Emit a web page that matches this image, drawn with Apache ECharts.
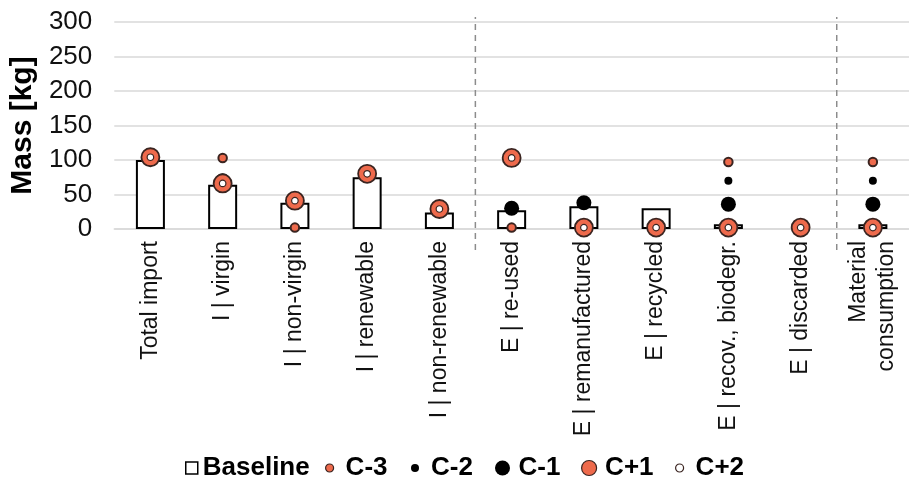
<!DOCTYPE html>
<html>
<head>
<meta charset="utf-8">
<script src="https://cdn.jsdelivr.net/npm/echarts@6/dist/echarts.min.js"></script>
<style>
html,body{margin:0;padding:0;background:#fff;}
#chart{width:909px;height:487px;}
</style>
</head>
<body>
<div id="chart"></div>
<script>
const categories = ['Total import','I | virgin','I | non-virgin','I | renewable','I | non-renewable','E | re-used','E | remanufactured','E | recycled','E | recov., biodegr.','E | discarded','Material\nconsumption'];
const baseline = [100, 64, 38, 75, 24, 27, 33, 30, 7, 0, 7];
const cMinus3 = [104, 103, 2, 80, 29, 2, 2, 2, 97, 2, 97];
const cMinus2 = [104, 70, 41, 80, 29, 30, 37, 2, 70, 2, 70];
const cMinus1 = [104, 70, 41, 80, 29, 30, 38, 2, 36, 2, 36];
const cPlus1 = [104, 66, 41, 80, 29, 103, 2, 2, 2, 2, 2];
const cPlus2 = [104, 66, 41, 80, 29, 103, 2, 2, 2, 2, 2];
const yTicks = [0, 50, 100, 150, 200, 250, 300];
const dividerPositions = [5, 10];

const chart = echarts.init(document.getElementById('chart'), null, {renderer:'canvas'});
const FONT = '"Liberation Sans", Arial, sans-serif';
const dark = '#3a2420';
const orange = '#EE6A4C';

function scatter(name, data, size, fill, border, bw, z) {
  return {
    name, type:'scatter', data, symbol:'circle', symbolSize:size, z,
    xAxisIndex:0, yAxisIndex:0,
    itemStyle:{color:fill, borderColor:border, borderWidth:bw, opacity:1}
  };
}

const legendDefs = [
  {name:'Baseline', left:185, w:12, h:12, icon:'rect', style:{color:'#fff', borderColor:'#000', borderWidth:1.5}},
  {name:'C-3', left:325, w:22, h:8, icon:'circle', style:{color:orange, borderColor:dark, borderWidth:1.2}},
  {name:'C-2', left:411, w:22, h:8, icon:'circle', style:{color:'#000', borderColor:'#000', borderWidth:0}},
  {name:'C-1', left:495, w:22, h:15, icon:'circle', style:{color:'#000', borderColor:'#000', borderWidth:0}},
  {name:'C+1', left:581, w:22, h:15, icon:'circle', style:{color:orange, borderColor:dark, borderWidth:1.2}},
  {name:'C+2', left:675, w:22, h:8, icon:'circle', style:{color:'#fff', borderColor:dark, borderWidth:1.2}}
];

const option = {
  backgroundColor:'#fff',
  animation:false,
  legend: legendDefs.map(d => ({
    data:[{name:d.name, icon:d.icon, itemStyle:d.style}],
    left:d.left, top:455, itemWidth:d.w, itemHeight:d.h, itemGap:0, padding:0,
    selectedMode:false, symbolKeepAspect:true,
    textStyle:{fontFamily:FONT, fontSize:26, fontWeight:'bold', color:'#000'}
  })),
  grid:[
    {left:114, right:-5, top:22, bottom:258, containLabel:false},
    {left:114, right:-5, top:17, bottom:237, containLabel:false}
  ],
  xAxis:[
    {type:'category', data:categories, gridIndex:0,
     axisLine:{show:true, lineStyle:{color:'#d9d9d9', width:1.5}},
     axisTick:{show:false},
     axisLabel:{rotate:90, interval:0, margin:12, fontFamily:FONT, fontSize:23, color:'#111', lineHeight:28}
    },
    {type:'value', gridIndex:1, min:0, max:categories.length, show:false}
  ],
  yAxis:[
    {type:'value', gridIndex:0, min:yTicks[0], max:yTicks[yTicks.length-1], interval:yTicks[1]-yTicks[0],
     name:'Mass [kg]', nameLocation:'middle', nameGap:76,
     nameTextStyle:{fontFamily:FONT, fontSize:30, fontWeight:'bold', color:'#000'},
     axisLine:{show:false}, axisTick:{show:false},
     axisLabel:{fontFamily:FONT, fontSize:26, color:'#111', margin:22},
     splitLine:{lineStyle:{color:'#d9d9d9', width:1.5}}
    },
    {type:'value', gridIndex:1, min:0, max:1, show:false}
  ],
  series:[
    {name:'Baseline', type:'bar', xAxisIndex:0, yAxisIndex:0, barWidth:29, z:2,
     data: baseline.map(v => v === 0 ? {value:v, itemStyle:{borderWidth:0, color:'transparent'}} : v),
     itemStyle:{color:'#fff', borderColor:'#000', borderWidth:2}},
    scatter('C-3', cMinus3, 8.5, orange, dark, 2, 3),
    scatter('C-2', cMinus2, 8, '#000', '#000', 0, 4),
    scatter('C-1', cMinus1, 15, '#000', '#000', 0, 5),
    scatter('C+1', cPlus1, 18, orange, dark, 1.8, 6),
    scatter('C+2', cPlus2, 6.5, '#fff', dark, 1.2, 7),
    ...dividerPositions.map(p => ({
      type:'line', xAxisIndex:1, yAxisIndex:1, data:[[p,0],[p,1]], symbol:'none', z:1,
      lineStyle:{color:'#8c8c8c', width:1.5, type:[6,5]}, silent:true
    }))
  ]
};
chart.setOption(option);
</script>
</body>
</html>
